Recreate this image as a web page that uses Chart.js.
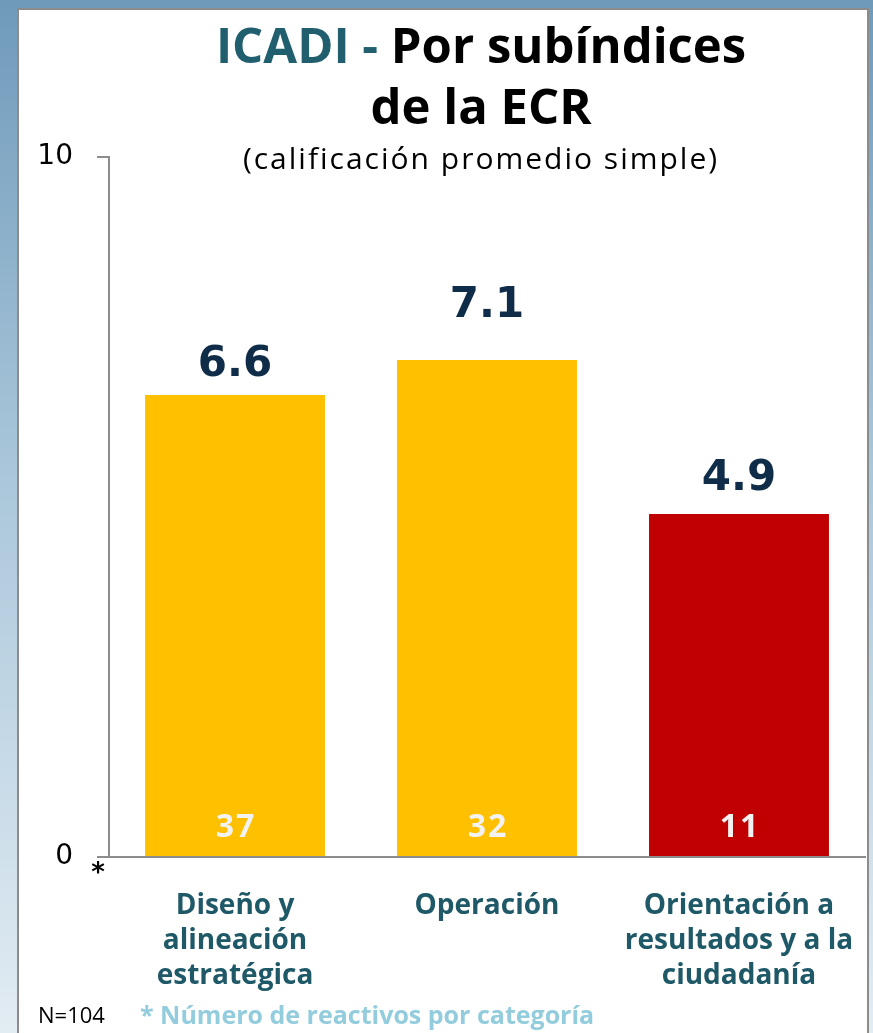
<!DOCTYPE html>
<html>
<head>
<meta charset="utf-8">
<script src="https://cdn.jsdelivr.net/npm/chart.js@4"></script>
<style>
  html, body { margin: 0; padding: 0; }
  body {
    width: 873px; height: 1033px; overflow: hidden; position: relative;
    background: linear-gradient(to bottom, #6f9aba 0%, #a9c6da 45%, #e2ecf3 100%);
  }
  #panel {
    position: absolute; left: 17px; top: 8px; width: 848px; height: 1040px;
    background: #ffffff; border: 2px solid #8c8c8c;
  }
  #wrap { position: absolute; left: 0; top: 0; width: 873px; height: 1033px; }
</style>
</head>
<body>
<div id="panel"></div>
<div id="wrap"><canvas id="icadi-chart" width="873" height="1033"></canvas></div>
<script>
// Chart data
const categories = [
    ['Diseño y', 'alineación', 'estratégica'],
    ['Operación'],
    ['Orientación a', 'resultados y a la', 'ciudadanía']
];
const scores = [6.6, 7.1, 4.9];
const itemCounts = [37, 32, 11];
const yTickValues = [0, 10];

// Color settings
const chartColors = {
    yellow: '#ffc000',
    red: '#c00000',
    axis: '#8c8c8c',
    value: '#0f2d48',
    category: '#1f5968',
    titleAccent: '#215f6f',
    note: '#93cddd'
};
const barColors = [chartColors.yellow, chartColors.yellow, chartColors.red];

// Gap between bar top and its value label (px), as placed in the original slide
const valueLabelGaps = [19, 43, 24];

/**
 * Title, value labels, counts and footer notes
 */
const annotationsPlugin = {
    id: 'annotations',
    afterDraw(chart) {
        const ctx = chart.ctx;
        const meta = chart.getDatasetMeta(0);
        ctx.save();

        // Title line 1 (two colours)
        ctx.textBaseline = 'alphabetic';
        ctx.font = 'bold 49px "Open Sans"';
        const part1 = 'ICADI - ';
        const part2 = 'Por subíndices';
        const w1 = ctx.measureText(part1).width;
        const w2 = ctx.measureText(part2).width;
        const x = 481 - (w1 + w2) / 2;
        ctx.textAlign = 'left';
        ctx.fillStyle = chartColors.titleAccent;
        ctx.fillText(part1, x, 63);
        ctx.fillStyle = '#000000';
        ctx.fillText(part2, x + w1, 63);

        ctx.textAlign = 'center';
        ctx.fillText('de la ECR', 481, 124);

        ctx.font = '30px "Open Sans"';
        ctx.letterSpacing = '2px';
        ctx.fillText('(calificación promedio simple)', 481, 169);
        ctx.letterSpacing = '0px';

        // Bar labels
        meta.data.forEach((bar, i) => {
            ctx.textAlign = 'center';
            ctx.textBaseline = 'alphabetic';
            ctx.fillStyle = chartColors.value;
            ctx.font = 'bold 42px "DejaVu Sans"';
            ctx.fillText(scores[i].toFixed(1), bar.x, bar.y - valueLabelGaps[i]);

            ctx.textBaseline = 'middle';
            ctx.fillStyle = '#f2f2f2';
            ctx.font = 'bold 32px "Open Sans"';
            ctx.letterSpacing = '2px';
            ctx.fillText(String(itemCounts[i]), bar.x + 1, bar.base - 28);
            ctx.letterSpacing = '0px';
        });

        // Asterisk near origin
        const xScale = chart.scales.x;
        ctx.fillStyle = '#000000';
        ctx.font = 'bold 26px "DejaVu Sans"';
        ctx.textAlign = 'center';
        ctx.textBaseline = 'middle';
        ctx.fillText('*', xScale.left - 11, xScale.top + 17);

        // Footer
        ctx.textAlign = 'left';
        ctx.textBaseline = 'middle';
        ctx.font = '22px "Open Sans"';
        ctx.fillStyle = '#000000';
        ctx.fillText('N=104', 38, 1017);
        ctx.font = 'bold 25px "Open Sans"';
        ctx.fillStyle = chartColors.note;
        ctx.fillText('* Número de reactivos por categoría', 140, 1017);

        ctx.restore();
    }
};

function createIcadiChart(canvas) {
    return new Chart(canvas, {
        type: 'bar',
        data: {
            labels: categories,
            datasets: [{
                data: scores,
                backgroundColor: barColors,
                borderWidth: 0,
                categoryPercentage: 1,
                barPercentage: 0.714
            }]
        },
        options: {
            responsive: false,
            animation: false,
            layout: {
                padding: { top: 157, right: 8, bottom: 0, left: 0 }
            },
            plugins: {
                legend: { display: false },
                tooltip: { enabled: false }
            },
            scales: {
                y: {
                    min: 0,
                    max: 10,
                    afterBuildTicks: scale => {
                        scale.ticks = yTickValues.map(v => ({ value: v }));
                    },
                    afterFit: scale => { scale.width = 109; },
                    border: { display: true, color: chartColors.axis, width: 2 },
                    grid: {
                        drawOnChartArea: false,
                        drawTicks: true,
                        tickLength: 12,
                        color: chartColors.axis,
                        lineWidth: 2
                    },
                    ticks: {
                        padding: 24,
                        color: '#000000',
                        font: { family: 'DejaVu Sans', size: 28 }
                    }
                },
                x: {
                    afterFit: scale => {
                        scale.height = 176;
                        scale.paddingLeft = 0;
                        scale.paddingRight = 0;
                    },
                    border: { display: true, color: chartColors.axis, width: 2 },
                    grid: { display: false },
                    ticks: {
                        padding: 24,
                        maxRotation: 0,
                        autoSkip: false,
                        color: chartColors.category,
                        font: { family: 'Open Sans', size: 28, weight: 'bold', lineHeight: 1.25 }
                    }
                }
            }
        },
        plugins: [annotationsPlugin]
    });
}

document.addEventListener('DOMContentLoaded', () => {
    createIcadiChart(document.getElementById('icadi-chart'));
});
</script>
</body>
</html>
